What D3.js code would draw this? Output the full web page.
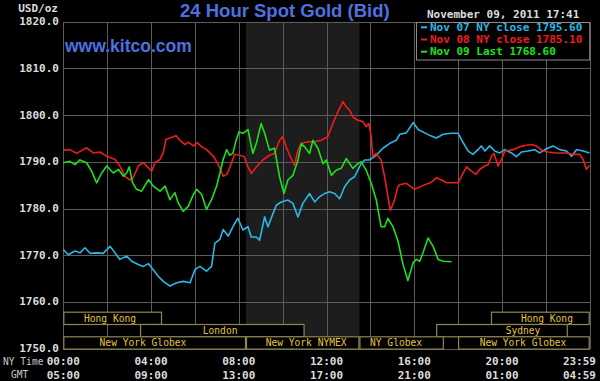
<!DOCTYPE html>
<html>
<head>
<meta charset="utf-8">
<script src="https://cdn.jsdelivr.net/npm/d3@7"></script>
<style>
html,body{margin:0;padding:0;background:#000;}
svg{display:block;}
</style>
</head>
<body>
<svg id="chart" width="600" height="381"></svg>
<script>
// ---------- data ----------
const title = "24 Hour Spot Gold (Bid)";
const site = "www.kitco.com";
const dateText = "November 09, 2011 17:41";
const unitLabel = "USD/oz";
const yTicks = [1750, 1760, 1770, 1780, 1790, 1800, 1810, 1820];
const xTickHours = [0, 4, 8, 12, 16, 20, 24];
const nyLabels = ["00:00", "04:00", "08:00", "12:00", "16:00", "20:00", "23:59"];
const gmtLabels = ["05:00", "09:00", "13:00", "17:00", "21:00", "01:00", "04:59"];
const pitSession = [8.33, 13.5]; // New York NYMEX pit hours (shaded)

const legendNames = ["Nov 07 NY close 1795.60", "Nov 08 NY close 1785.10", "Nov 09 Last 1768.60"];

// [hour (NY time), price]
const nov07 = [[0.00,1771.2],[0.23,1770.1],[0.53,1770.9],[0.76,1770.5],[0.99,1771.6],[1.22,1770.4],[1.52,1770.5],[1.82,1770.4],[2.13,1771.9],[2.36,1770.5],[2.58,1769.1],[2.89,1769.8],[3.12,1768.7],[3.42,1768.0],[3.65,1767.6],[3.88,1768.2],[4.10,1766.9],[4.33,1765.5],[4.56,1764.4],[4.86,1763.4],[5.17,1764.1],[5.47,1764.4],[5.78,1764.1],[6.00,1766.9],[6.23,1767.6],[6.53,1766.6],[6.76,1767.6],[6.91,1772.6],[7.14,1773.4],[7.29,1775.5],[7.52,1774.1],[7.81,1776.8],[7.96,1777.9],[8.19,1775.4],[8.42,1776.1],[8.57,1773.9],[8.80,1773.9],[8.95,1773.2],[9.18,1778.2],[9.33,1776.1],[9.56,1778.9],[9.71,1780.7],[9.94,1781.4],[10.24,1781.8],[10.47,1781.1],[10.70,1778.2],[10.92,1781.1],[11.23,1783.2],[11.46,1781.4],[11.68,1782.5],[11.91,1783.2],[12.14,1783.6],[12.37,1783.2],[12.60,1782.1],[12.82,1784.6],[13.05,1786.1],[13.28,1786.8],[13.43,1788.2],[13.58,1789.6],[13.74,1790.4],[13.96,1790.4],[14.27,1791.4],[14.57,1792.9],[14.87,1793.9],[15.18,1794.6],[15.34,1795.9],[15.64,1796.2],[15.95,1798.4],[16.18,1796.9],[16.48,1796.2],[16.78,1795.5],[17.01,1795.1],[17.32,1795.9],[17.70,1796.1],[18.00,1796.1],[18.23,1794.1],[18.46,1792.3],[18.68,1791.6],[18.91,1792.6],[19.06,1793.4],[19.22,1792.3],[19.44,1793.4],[19.67,1792.3],[19.90,1791.9],[20.13,1792.6],[20.43,1791.9],[20.66,1791.1],[20.89,1792.1],[21.19,1792.3],[21.49,1792.6],[21.72,1791.9],[22.03,1792.8],[22.33,1793.4],[22.63,1792.6],[22.94,1792.3],[23.17,1791.2],[23.40,1792.6],[23.70,1792.3],[23.99,1791.9]];

const nov08 = [[0.00,1792.5],[0.30,1792.6],[0.61,1791.8],[1.06,1793.0],[1.37,1791.9],[1.67,1792.1],[1.98,1791.2],[2.36,1790.5],[2.58,1789.1],[2.81,1786.9],[3.04,1786.1],[3.19,1786.6],[3.42,1789.1],[3.65,1789.8],[3.88,1788.7],[4.03,1788.0],[4.18,1789.8],[4.41,1790.5],[4.56,1792.0],[4.68,1794.8],[4.86,1795.1],[5.14,1795.6],[5.32,1794.6],[5.55,1793.7],[5.70,1794.2],[5.93,1793.4],[6.11,1794.1],[6.31,1793.2],[6.53,1792.6],[6.84,1791.2],[7.07,1789.4],[7.29,1786.9],[7.45,1787.3],[7.58,1788.6],[7.81,1791.6],[8.04,1791.4],[8.26,1791.1],[8.42,1788.9],[8.57,1787.5],[8.80,1788.9],[9.10,1790.4],[9.40,1791.4],[9.63,1791.8],[9.86,1794.6],[10.01,1795.4],[10.16,1793.2],[10.32,1791.4],[10.54,1789.3],[10.70,1792.5],[10.85,1793.9],[11.15,1794.3],[11.46,1794.3],[11.76,1794.6],[12.06,1795.4],[12.29,1798.2],[12.52,1800.7],[12.75,1802.9],[12.90,1801.8],[13.05,1801.1],[13.20,1799.6],[13.43,1798.9],[13.66,1798.6],[13.81,1797.5],[13.93,1798.2],[14.04,1795.4],[14.11,1791.1],[14.27,1791.8],[14.49,1790.4],[14.65,1786.8],[14.80,1782.5],[14.91,1779.6],[15.10,1781.8],[15.25,1784.6],[15.34,1785.1],[15.64,1785.4],[16.02,1784.1],[16.40,1784.9],[16.78,1785.6],[17.01,1786.6],[17.24,1786.1],[17.47,1785.5],[18.00,1785.5],[18.15,1786.9],[18.38,1788.9],[18.61,1788.0],[18.81,1787.3],[18.99,1788.4],[19.22,1789.1],[19.37,1789.4],[19.52,1791.2],[19.64,1791.8],[19.82,1789.1],[19.98,1790.5],[20.13,1792.3],[20.51,1792.6],[20.81,1793.2],[21.04,1793.5],[21.34,1793.7],[21.57,1793.4],[21.87,1792.3],[22.10,1792.1],[22.48,1791.9],[22.94,1791.9],[23.24,1791.6],[23.55,1791.6],[23.70,1790.5],[23.85,1788.4],[23.99,1789.2]];

const nov09 = [[0.00,1789.8],[0.30,1790.1],[0.53,1789.4],[0.76,1790.4],[1.06,1789.8],[1.29,1788.0],[1.52,1785.5],[1.75,1787.6],[1.98,1789.1],[2.28,1787.6],[2.51,1788.4],[2.74,1786.9],[2.89,1787.6],[3.01,1788.9],[3.16,1785.5],[3.34,1784.1],[3.57,1783.7],[3.88,1786.2],[4.10,1784.8],[4.41,1783.7],[4.64,1784.8],[4.86,1781.9],[5.09,1783.4],[5.24,1781.2],[5.47,1779.4],[5.70,1780.5],[5.93,1783.0],[6.08,1784.1],[6.31,1783.0],[6.53,1779.8],[6.76,1781.9],[6.99,1784.8],[7.14,1787.6],[7.29,1790.5],[7.45,1792.6],[7.58,1791.4],[7.73,1791.8],[7.88,1794.6],[8.01,1796.4],[8.19,1796.1],[8.42,1796.9],[8.64,1791.8],[8.80,1793.9],[9.02,1798.2],[9.18,1796.1],[9.40,1792.5],[9.63,1792.9],[9.86,1786.8],[10.06,1783.2],[10.24,1786.1],[10.47,1787.1],[10.70,1790.4],[10.85,1793.9],[11.00,1793.2],[11.23,1791.8],[11.38,1794.6],[11.61,1792.9],[11.84,1789.6],[11.99,1790.4],[12.22,1787.1],[12.44,1788.2],[12.67,1788.6],[12.90,1790.7],[13.20,1788.6],[13.43,1789.6],[13.58,1790.0],[13.81,1788.2],[14.04,1785.4],[14.27,1781.8],[14.49,1776.1],[14.65,1776.1],[14.80,1777.9],[15.03,1776.1],[15.25,1773.2],[15.48,1768.2],[15.71,1764.6],[15.95,1768.4],[16.10,1769.1],[16.25,1768.7],[16.40,1770.5],[16.63,1773.7],[16.86,1771.9],[17.09,1769.1],[17.32,1768.7],[17.70,1768.6]];

const seriesData = [nov07, nov08, nov09];
const seriesColors = ["#2ab8e6", "#ee1c1c", "#1ee01e"];

// trading sessions: lane, start hour, end hour, label, label-center hour
const sessionLanes = [0, 0, 1, 1, 2, 2, 2, 2];
const sessionStart = [0, 19.5, 3.5, 17, 0, 8.33, 13.5, 18];
const sessionEnd   = [4.5, 24, 11, 23, 8.33, 13.5, 17.35, 24];
const sessionNames = ["Hong Kong", "Hong Kong", "London", "Sydney", "New York Globex", "New York NYMEX", "NY Globex", "New York Globex"];
const sessionLabelAt = [2.13, 22.05, 7.15, 20.96, 3.63, 11.07, 15.17, 20.96];

// ---------- drawing ----------
const svg = d3.select("#chart");
const W = 600, H = 381;
const x = d3.scaleLinear().domain([0, 24]).range([63.3, 589.7]);
const y = d3.scaleLinear().domain([1750, 1820]).range([348.6, 21.7]);
const mono = "'DejaVu Sans Mono', 'Liberation Mono', monospace";

svg.append("rect").attr("width", W).attr("height", H).attr("fill", "#000");

// shaded pit session
svg.append("rect")
  .attr("x", x(pitSession[0])).attr("y", y(1820))
  .attr("width", x(pitSession[1]) - x(pitSession[0]))
  .attr("height", y(1750) - y(1820))
  .attr("fill", "#1d1d1d");

// grid
const grid = svg.append("g").attr("stroke", "#5c5c5c").attr("stroke-width", 1).attr("shape-rendering", "crispEdges");
d3.range(0, 25, 2).forEach(h => {
  grid.append("line").attr("x1", Math.round(x(h)) + 0.5).attr("x2", Math.round(x(h)) + 0.5)
    .attr("y1", y(1820)).attr("y2", y(1750));
});
yTicks.forEach(v => {
  grid.append("line").attr("x1", x(0)).attr("x2", x(24))
    .attr("y1", Math.round(y(v)) + 0.5).attr("y2", Math.round(y(v)) + 0.5);
});

// sessions
const laneH = 12.3;
const laneTop = y(1750) - 3 * laneH;
const sess = svg.append("g");
sessionNames.forEach((name, i) => {
  const x0 = x(sessionStart[i]), x1 = x(sessionEnd[i]);
  const yy = laneTop + sessionLanes[i] * laneH;
  sess.append("rect")
    .attr("x", x0 + 0.5).attr("y", yy + 0.5)
    .attr("width", x1 - x0 - 1).attr("height", laneH)
    .attr("fill", "#000").attr("stroke", "#8c8650").attr("stroke-width", 1.2);
  sess.append("text")
    .attr("x", x(sessionLabelAt[i])).attr("y", yy + laneH / 2 + 0.5)
    .attr("text-anchor", "middle").attr("dominant-baseline", "central")
    .attr("font-family", mono).attr("font-size", 9.6)
    .attr("fill", "#e6c43c").text(name);
});

// lines
const line = d3.line().x(d => x(d[0])).y(d => y(d[1]));
seriesData.forEach((s, i) => {
  svg.append("path").datum(s).attr("d", line)
    .attr("fill", "none").attr("stroke", seriesColors[i])
    .attr("stroke-width", 1.6).attr("stroke-linejoin", "round");
});

// y axis labels
const axisCol = "#dcdcdc";
yTicks.forEach(v => {
  svg.append("text").attr("x", 59).attr("y", y(v))
    .attr("text-anchor", "end").attr("dominant-baseline", "central")
    .attr("font-family", mono).attr("font-size", 11).attr("font-weight", "bold")
    .attr("fill", axisCol).text(d3.format(".1f")(v));
});
svg.append("text").attr("x", 58).attr("y", 8)
  .attr("text-anchor", "end").attr("dominant-baseline", "central")
  .attr("font-family", mono).attr("font-size", 11).attr("font-weight", "bold")
  .attr("fill", axisCol).text(unitLabel);

// x axis labels
xTickHours.forEach((h, i) => {
  const last = i === xTickHours.length - 1;
  [nyLabels, gmtLabels].forEach((labs, r) => {
    svg.append("text")
      .attr("x", last ? 596 : x(h))
      .attr("y", r === 0 ? 361 : 375)
      .attr("text-anchor", last ? "end" : "middle").attr("dominant-baseline", "central")
      .attr("font-family", mono).attr("font-size", 11).attr("font-weight", "bold")
      .attr("fill", axisCol).text(labs[i]);
  });
});
svg.append("text").attr("x", 3).attr("y", 361).attr("dominant-baseline", "central")
  .attr("font-family", mono).attr("font-size", 9.6).attr("fill", "#c8c8c8").text("NY Time");
svg.append("text").attr("x", 11).attr("y", 374).attr("dominant-baseline", "central")
  .attr("font-family", mono).attr("font-size", 9.6).attr("fill", "#c8c8c8").text("GMT");

// title & site
svg.append("text").attr("x", 180).attr("y", 17)
  .attr("font-family", "'Liberation Sans', Arial, sans-serif").attr("font-weight", "bold")
  .attr("font-size", 18.5).attr("fill", "#4f70e0").text(title);
svg.append("text").attr("x", 65).attr("y", 52)
  .attr("font-family", "'Liberation Sans', Arial, sans-serif").attr("font-weight", "bold")
  .attr("font-size", 17.5).attr("fill", "#4f70e0").text(site);

// date
svg.append("text").attr("x", 427).attr("y", 14.3).attr("dominant-baseline", "central")
  .attr("font-family", mono).attr("font-size", 11).attr("font-weight", "bold")
  .attr("fill", axisCol).text(dateText);

// legend
const lg = svg.append("g");
lg.append("rect").attr("x", 416.5).attr("y", Math.round(y(1820)) + 0.5)
  .attr("width", x(24) - 416.5).attr("height", 37.5)
  .attr("fill", "#000").attr("stroke", "#8a8a8a").attr("stroke-width", 1);
legendNames.forEach((name, i) => {
  const cy = 27.3 + i * 12.2;
  lg.append("line").attr("x1", 421).attr("x2", 427).attr("y1", cy).attr("y2", cy)
    .attr("stroke", seriesColors[i]).attr("stroke-width", 2);
  lg.append("text").attr("x", 430).attr("y", cy).attr("dominant-baseline", "central")
    .attr("font-family", mono).attr("font-size", 11).attr("font-weight", "bold")
    .attr("fill", seriesColors[i]).text(name);
});
</script>
</body>
</html>
